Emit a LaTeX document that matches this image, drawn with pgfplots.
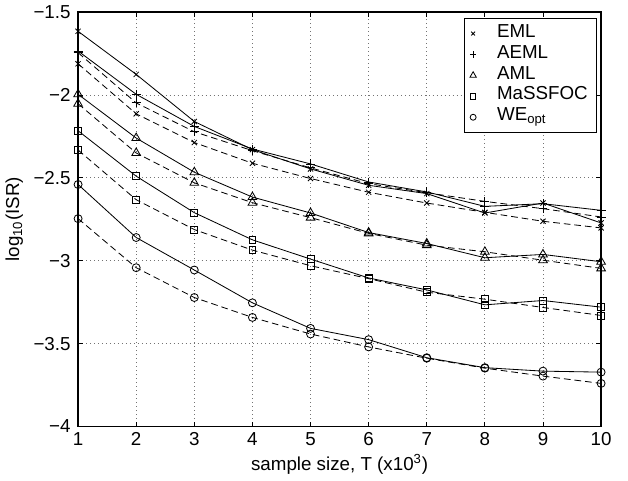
\documentclass[border=0pt]{standalone}
\usepackage{pgfplots}
\pgfplotsset{compat=1.18}
\usepackage{fontspec}
\setmainfont{Liberation Sans}

% marks: EML=x, AEML=+, AML=triangle, MaSSFOC=square, WE_opt=circle
\pgfplotsset{
    sol/.style={black, line width=0.5pt, mark options={solid, line width=0.5pt}},
    das/.style={black, line width=0.5pt, dash pattern=on 4pt off 2.4pt, mark options={solid, line width=0.5pt}},
    mleg/.style={legend image code/.code={\path[draw=none,fill=none] (-2pt,0pt) -- (12.4pt,0pt);
        \draw[##1] plot coordinates {(0pt,0pt)};}},
}

\begin{document}
\begin{tikzpicture}
    \begin{axis}[
        scale only axis,
        width=315pt, height=249.6pt,
        xmin=1, xmax=10, ymin=-4, ymax=-1.5,
        xtick={1,2,...,10},
        ytick={-4,-3.5,-3,-2.5,-2,-1.5},
        yticklabels={−4,−3.5,−3,−2.5,−2,−1.5},
        tick align=inside,
        major tick length=3pt,
        axis line style={line width=0.9pt},
        every tick/.style={black, line width=0.5pt},
        grid=major,
        grid style={dotted, black!55, line width=0.5pt},
        /pgf/number format/assume math mode=true,
        tick label style={font=\fontsize{11.3}{13}\selectfont},
        yticklabel style={xshift=-1pt},
        label style={font=\fontsize{11.3}{13}\selectfont},
        xlabel={sample size, T (x10\textsuperscript{3})},
        ylabel={log\textsubscript{10}(ISR)},
        xlabel style={at={(axis description cs:0.5,-0.091)}, anchor=center},
        ylabel style={at={(axis description cs:-0.122,0.5)}, anchor=center},
        legend style={at={(axis description cs:0.9924,0.9864)}, anchor=north east,
            font=\fontsize{11.3}{13}\selectfont, inner xsep=3.4pt, inner ysep=3pt,
            line width=0.5pt,
            nodes={inner ysep=0pt, inner xsep=2pt, text height=8.5pt, text depth=4.1pt}},
        legend cell align=left,
    ]

    % EML
    \addplot[sol, mark=x, mark size=2.2pt, forget plot] coordinates {
        (1,-1.616) (2,-1.876) (3,-2.160) (4,-2.330) (5,-2.446)
        (6,-2.545) (7,-2.595) (8,-2.712) (9,-2.652) (10,-2.772)
    };
    \addplot[das, mark=x, mark size=2.2pt, forget plot] coordinates {
        (1,-1.812) (2,-2.114) (3,-2.287) (4,-2.412) (5,-2.504)
        (6,-2.587) (7,-2.652) (8,-2.708) (9,-2.762) (10,-2.802)
    };
    % AEML
    \addplot[sol, mark=+, mark size=2.7pt, forget plot] coordinates {
        (1,-1.735) (2,-1.996) (3,-2.190) (4,-2.326) (5,-2.416)
        (6,-2.525) (7,-2.585) (8,-2.672) (9,-2.656) (10,-2.696)
    };
    \addplot[das, mark=+, mark size=2.7pt, forget plot] coordinates {
        (1,-1.745) (2,-2.048) (3,-2.222) (4,-2.336) (5,-2.440)
        (6,-2.535) (7,-2.590) (8,-2.642) (9,-2.686) (10,-2.736)
    };
    % AML
    \addplot[sol, mark=triangle, mark size=3pt, forget plot] coordinates {
        (1,-1.996) (2,-2.260) (3,-2.466) (4,-2.616) (5,-2.712)
        (6,-2.830) (7,-2.896) (8,-2.982) (9,-2.962) (10,-3.006)
    };
    \addplot[das, mark=triangle, mark size=3pt, forget plot] coordinates {
        (1,-2.053) (2,-2.350) (3,-2.530) (4,-2.650) (5,-2.740)
        (6,-2.835) (7,-2.906) (8,-2.946) (9,-2.997) (10,-3.046)
    };
    % MaSSFOC
    \addplot[sol, mark=square, mark size=2.1pt, forget plot] coordinates {
        (1,-2.216) (2,-2.490) (3,-2.710) (4,-2.874) (5,-2.990)
        (6,-3.104) (7,-3.176) (8,-3.266) (9,-3.240) (10,-3.280)
    };
    \addplot[das, mark=square, mark size=2.1pt, forget plot] coordinates {
        (1,-2.332) (2,-2.632) (3,-2.812) (4,-2.936) (5,-3.030)
        (6,-3.108) (7,-3.190) (8,-3.232) (9,-3.282) (10,-3.330)
    };
    % WE_opt
    \addplot[sol, mark=o, mark size=2.4pt, forget plot] coordinates {
        (1,-2.540) (2,-2.860) (3,-3.056) (4,-3.254) (5,-3.408)
        (6,-3.476) (7,-3.585) (8,-3.645) (9,-3.666) (10,-3.672)
    };
    \addplot[das, mark=o, mark size=2.4pt, forget plot] coordinates {
        (1,-2.746) (2,-3.042) (3,-3.222) (4,-3.342) (5,-3.442)
        (6,-3.520) (7,-3.588) (8,-3.648) (9,-3.696) (10,-3.740)
    };

    \addlegendimage{mleg, only marks, black, line width=0.5pt, mark=x, mark size=1.6pt}
    \addlegendentry{EML}
    \addlegendimage{mleg, only marks, black, line width=0.5pt, mark=+, mark size=2pt}
    \addlegendentry{AEML}
    \addlegendimage{mleg, only marks, black, line width=0.5pt, mark=triangle, mark size=2.2pt}
    \addlegendentry{AML}
    \addlegendimage{mleg, only marks, black, line width=0.5pt, mark=square, mark size=1.6pt}
    \addlegendentry{MaSSFOC}
    \addlegendimage{mleg, only marks, black, line width=0.5pt, mark=o, mark size=1.8pt}
    \addlegendentry{WE\textsubscript{opt}}
    \end{axis}
    \path (current axis.south west) ++(-45.6pt,-32.4pt);
    \path (current axis.north east) ++(16.2pt,4.4pt);
\end{tikzpicture}
\end{document}
